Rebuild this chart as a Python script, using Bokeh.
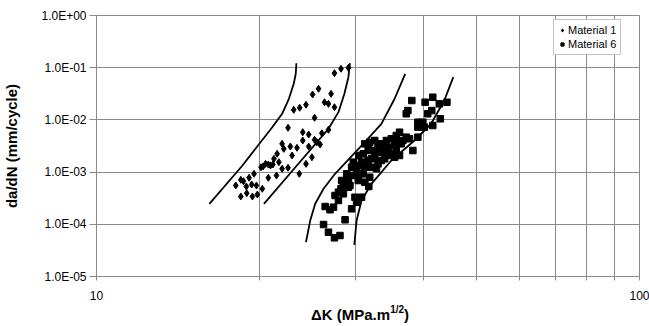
from bokeh.plotting import figure
from bokeh.models import FixedTicker, CustomJSTickFormatter, Legend, Div
from bokeh.layouts import column
from bokeh.embed import file_html
from bokeh.resources import INLINE

# ---- data ----
m1_dk = [18.05, 18.44, 18.65, 19.10, 19.50, 18.88, 19.31, 19.70, 20.20, 18.44, 18.91, 19.37, 19.78,
         20.09, 20.26, 20.48, 20.72, 20.92, 21.13, 21.22, 21.51, 20.72, 21.45, 21.97, 22.53, 21.67,
         21.97, 22.13, 22.75, 23.40, 22.92, 23.63, 24.31, 24.59, 23.98, 23.98, 24.59, 25.21, 25.46,
         25.81, 26.00, 26.74, 24.93, 22.53, 23.08, 23.67, 24.31, 25.21, 25.00, 25.64, 26.30, 26.74,
         27.04, 27.43, 27.43, 28.20, 29.10]
m1_dadn = [5.54e-4, 7.12e-4, 6.69e-4, 7.78e-4, 9.27e-4, 5.30e-4, 5.78e-4, 5.54e-4, 4.79e-4, 3.41e-4,
           3.94e-4, 3.41e-4, 3.72e-4, 1.24e-3, 1.28e-3, 1.44e-3, 1.40e-3, 1.34e-3, 1.40e-3, 1.80e-3,
           2.24e-3, 7.78e-4, 8.61e-4, 1.16e-3, 1.21e-3, 1.55e-3, 3.48e-3, 2.79e-3, 3.09e-3, 2.92e-3,
           2.08e-3, 9.27e-4, 1.44e-3, 3.09e-3, 4.03e-3, 5.81e-3, 5.25e-3, 4.16e-3, 3.74e-3, 3.38e-3,
           5.56e-3, 6.46e-3, 1.93e-3, 7.06e-3, 1.56e-2, 1.71e-2, 1.95e-2, 1.10e-2, 3.07e-2, 3.94e-2,
           2.18e-2, 2.03e-2, 3.16e-2, 1.75e-2, 7.85e-2, 9.53e-2, 9.96e-2]

m6_dk = [26.19, 26.74, 27.43, 28.08, 28.69, 26.37, 26.92, 27.32, 29.50, 27.50, 27.90, 28.20, 28.49,
         28.69, 29.10, 29.71, 29.92, 30.13, 30.77, 31.73, 31.86, 30.99, 30.13, 29.71, 30.42, 31.20,
         31.65, 32.09, 32.54, 33.00, 33.47, 33.93, 34.43, 34.91, 35.40, 35.65, 36.15, 31.20, 31.86,
         32.54, 33.47, 34.19, 34.91, 35.65, 36.15, 36.67, 37.19, 37.71, 38.25, 39.07, 37.19, 37.45,
         38.08, 39.07, 39.90, 40.29, 41.62, 41.44, 42.79, 42.97, 41.62, 44.19, 31.86, 30.77, 32.54,
         34.43, 33.47, 29.10, 28.49, 27.90, 29.29, 30.34, 31.20, 30.55, 28.89, 29.50, 30.34, 32.09,
         32.78, 33.93, 35.40, 36.41, 35.90, 31.65, 33.00, 30.99, 40.17, 39.07, 40.74, 28.28]
m6_dadn = [9.91e-5, 7.06e-5, 5.51e-5, 6.10e-5, 1.22e-4, 2.19e-4, 1.90e-4, 2.13e-4, 1.98e-4, 3.56e-4,
           4.12e-4, 4.79e-4, 5.54e-4, 6.41e-4, 7.44e-4, 8.61e-4, 3.30e-4, 2.65e-4, 3.30e-4, 5.30e-4,
           7.98e-4, 9.27e-4, 1.07e-3, 1.55e-3, 2.08e-3, 1.24e-3, 1.67e-3, 1.80e-3, 1.93e-3, 1.44e-3,
           1.67e-3, 1.80e-3, 2.08e-3, 2.24e-3, 1.93e-3, 2.59e-3, 2.08e-3, 3.48e-3, 3.74e-3, 4.03e-3,
           3.48e-3, 4.03e-3, 4.35e-3, 5.03e-3, 5.81e-3, 4.03e-3, 4.67e-3, 4.35e-3, 2.59e-3, 4.67e-3,
           1.31e-2, 1.51e-2, 2.35e-2, 9.04e-3, 9.04e-3, 2.18e-2, 2.72e-2, 1.51e-2, 2.03e-2, 1.05e-2,
           7.81e-3, 2.18e-2, 2.59e-3, 1.55e-3, 2.59e-3, 3.00e-3, 2.41e-3, 5.14e-4, 3.84e-4, 2.86e-4,
           5.54e-4, 6.90e-4, 6.41e-4, 9.27e-4, 9.27e-4, 1.24e-3, 1.34e-3, 1.24e-3, 1.16e-3, 2.79e-3,
           3.23e-3, 3.48e-3, 3.74e-3, 2.79e-3, 3.00e-3, 2.24e-3, 7.25e-3, 7.25e-3, 1.31e-2, 6.90e-4]

# bound curves
m1_low_dk = [16.14, 18.57, 21.07, 21.97, 22.61, 23.08, 23.28, 23.34]
m1_low_dadn = [2.47e-4, 1.34e-3, 7.25e-3, 1.31e-2, 2.54e-2, 4.92e-2, 7.64e-2, 1.22e-1]
m1_up_dk = [20.34, 23.24, 26.74, 27.90, 28.61, 29.10, 29.29]
m1_up_dadn = [2.47e-4, 1.24e-3, 6.75e-3, 1.41e-2, 3.16e-2, 6.58e-2, 1.22e-1]
m6_low_dk = [24.31, 24.75, 25.28, 26.19, 27.50, 31.20, 33.47, 35.40, 37.03]
m6_low_dadn = [4.54e-5, 1.18e-4, 2.47e-4, 4.79e-4, 9.27e-4, 3.74e-3, 8.42e-3, 2.54e-2, 7.64e-2]
m6_up_dk = [29.84, 30.13, 30.77, 32.09, 34.91, 38.51, 41.32, 43.70, 45.40]
m6_up_dadn = [4.05e-5, 1.18e-4, 2.86e-4, 5.97e-4, 1.67e-3, 4.03e-3, 8.42e-3, 2.35e-2, 6.58e-2]

x_ticks = [10, 20, 30, 40, 50, 60, 70, 80, 90, 100]
y_ticks = [1e-5, 1e-4, 1e-3, 1e-2, 1e-1, 1]

FONT = "Liberation Sans"
GRID = "#8a8a8a"

p = figure(frame_width=543, frame_height=261, x_axis_type="log", y_axis_type="log",
           x_range=(10, 100), y_range=(1e-5, 1), output_backend="svg",
           toolbar_location=None, min_border_left=93, min_border_right=13,
           min_border_top=15, min_border_bottom=30)
p.background_fill_color = "white"
p.border_fill_color = "white"
p.outline_line_color = GRID

p.xaxis.ticker = FixedTicker(ticks=x_ticks, minor_ticks=[])
p.yaxis.ticker = FixedTicker(ticks=y_ticks, minor_ticks=[])
p.xaxis.formatter = CustomJSTickFormatter(code="""
    return (Math.abs(tick-10)<1e-6 || Math.abs(tick-100)<1e-6) ? String(Math.round(tick)) : "";
""")
p.yaxis.formatter = CustomJSTickFormatter(code="""
    const e = Math.round(Math.log10(tick));
    const s = e < 0 ? "-" : "+";
    const a = Math.abs(e);
    return "1.0E" + s + (a < 10 ? "0" : "") + a;
""")
for ax in (p.xaxis[0], p.yaxis[0]):
    ax.axis_line_color = GRID
    ax.major_tick_line_color = GRID
    ax.minor_tick_line_color = None
    ax.major_label_text_font = FONT
    ax.major_label_text_font_size = "12px"
    ax.major_label_text_color = "black"
p.xaxis.major_tick_in = 0
p.xaxis.major_tick_out = 4
p.yaxis.major_tick_in = 0
p.yaxis.major_tick_out = 7
p.yaxis.major_label_standoff = 3
p.xaxis.major_label_standoff = 10

p.yaxis.axis_label = "da/dN (mm/cycle)"
p.yaxis.axis_label_text_font = FONT
p.yaxis.axis_label_text_font_size = "15px"
p.yaxis.axis_label_text_font_style = "bold"
p.yaxis.axis_label_text_color = "black"
p.yaxis.axis_label_standoff = 18

p.xgrid.grid_line_color = GRID
p.ygrid.grid_line_color = GRID
p.xgrid.grid_line_width = 1
p.ygrid.grid_line_width = 1

for xs, ys in ((m1_low_dk, m1_low_dadn), (m1_up_dk, m1_up_dadn),
               (m6_low_dk, m6_low_dadn), (m6_up_dk, m6_up_dadn)):
    p.line(xs, ys, line_color="black", line_width=1.8)

r1 = p.scatter(m1_dk, m1_dadn, marker="diamond", size=7, fill_color="black", line_color="black")
r6 = p.scatter(m6_dk, m6_dadn, marker="square", size=6.5, fill_color="black", line_color="black")

legend = Legend(items=[("Material 1", [r1]), ("Material 6", [r6])],
                location=(457, 221), label_text_font=FONT, label_text_font_size="11px",
                label_text_color="black",
                label_height=12, glyph_height=12, glyph_width=8, spacing=2, padding=4,
                margin=0, label_standoff=2, border_line_color=GRID,
                background_fill_alpha=1.0)
p.add_layout(legend, "center")

# x axis title (with superscript) as real text below the plot
xtitle = Div(
    text=('<span style="font-family:\'Liberation Sans\'; font-weight:bold; font-size:15px; '
          'line-height:17px; color:black; white-space:nowrap;">'
          '\u0394K (MPa.m<span style="position:relative; top:-7px; font-size:10px;">1/2</span>)</span>'),
    width=130, height=20, margin=(0, 0, 0, 311))

layout = column(p, xtitle, spacing=0)
open("out.html", "w").write(file_html(layout, INLINE))
